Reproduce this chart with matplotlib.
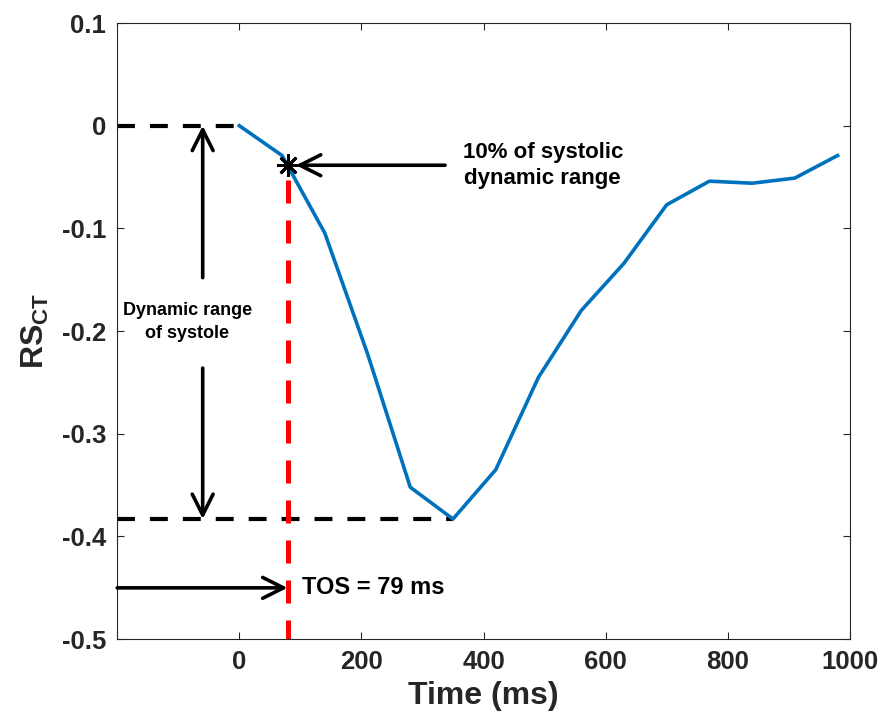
import matplotlib
matplotlib.use('Agg')
import matplotlib.pyplot as plt

plt.rcParams['font.family'] = ['Liberation Sans', 'DejaVu Sans']
plt.rcParams['font.weight'] = 'bold'
plt.rcParams['axes.unicode_minus'] = False
plt.rcParams['mathtext.fontset'] = 'custom'
plt.rcParams['mathtext.bf'] = 'Liberation Sans:bold'
plt.rcParams['mathtext.rm'] = 'Liberation Sans:bold'

# datos de la curva
tiempo = [0, 70, 140, 210, 280, 350, 420, 490, 560, 630, 700, 770, 840, 910, 980]
rs_ct = [0.0, -0.029, -0.1045, -0.222, -0.352, -0.383, -0.335, -0.245, -0.180,
         -0.134, -0.077, -0.054, -0.056, -0.051, -0.029]
tos = 79
nivel_10 = -0.0385

x_ticks = [0, 200, 400, 600, 800, 1000]
y_ticks = [-0.5, -0.4, -0.3, -0.2, -0.1, 0, 0.1]
y_tick_labels = ['-0.5', '-0.4', '-0.3', '-0.2', '-0.1', '0', '0.1']

gris = '#262626'
fig = plt.figure(figsize=(8.88, 7.19), dpi=100)
ax = fig.add_axes([0.132, 0.111, 0.825, 0.857])

ax.plot(tiempo, rs_ct, color='#0072BD', lw=2.6, zorder=3)

# lineas punteadas negras
ymin = min(rs_ct)
tmin = tiempo[rs_ct.index(ymin)]
ax.plot([-200, 0], [0, 0], color='k', lw=3, dashes=(4.3, 3.6), zorder=2)
ax.plot([-200, tmin], [ymin, ymin], color='k', lw=3, dashes=(4.3, 3.6), zorder=2)

# linea roja
ax.plot([tos, tos], [-0.053, -0.5], color='red', lw=3.6, dashes=(4.6, 3.4), zorder=2)

# asterisco
ax.plot([tos], [nivel_10], marker=(8, 2, 0), color='k', ms=16, mew=2, zorder=5)

flecha = dict(arrowstyle='->,head_length=1.5,head_width=0.75', color='k', lw=2.6,
              shrinkA=0, shrinkB=0)

# flecha doble rango dinamico
ax.annotate('', xy=(-60, 0), xytext=(-60, -0.148), arrowprops=flecha)
ax.annotate('', xy=(-60, ymin), xytext=(-60, -0.236), arrowprops=flecha)
ax.text(-85, -0.191, 'Dynamic range\nof systole', ha='center', va='center',
        fontsize=13, fontweight='bold', linespacing=1.45)

# flecha 10%
flecha2 = dict(flecha)
flecha2['shrinkB'] = 6
ax.annotate('', xy=(tos, nivel_10), xytext=(337, nivel_10), arrowprops=flecha2)
ax.text(497, nivel_10, '10% of systolic\ndynamic range', ha='center', va='center',
        fontsize=16, fontweight='bold', linespacing=1.3)

# flecha TOS
ax.annotate('', xy=(tos, -0.45), xytext=(-200, -0.45), arrowprops=flecha)
ax.text(103, -0.45, 'TOS = 79 ms', ha='left', va='center', fontsize=17, fontweight='bold')

ax.set_xlim(-200, 1000)
ax.set_ylim(-0.5, 0.1)
ax.set_xticks(x_ticks)
ax.set_yticks(y_ticks)
ax.set_yticklabels(y_tick_labels)
ax.tick_params(direction='in', top=True, right=True, length=5, width=0.8,
               colors=gris, labelsize=18.5, pad=8)
for lab in ax.get_xticklabels() + ax.get_yticklabels():
    lab.set_fontweight('bold')
for s in ax.spines.values():
    s.set_color(gris)
    s.set_linewidth(0.8)

ax.set_xlabel('Time (ms)', fontsize=23, fontweight='bold', color=gris, labelpad=5)
ax.set_ylabel(r'$\mathbf{RS_{CT}}$', fontsize=23, color=gris, labelpad=8)

plt.savefig('out.png', dpi=100)
